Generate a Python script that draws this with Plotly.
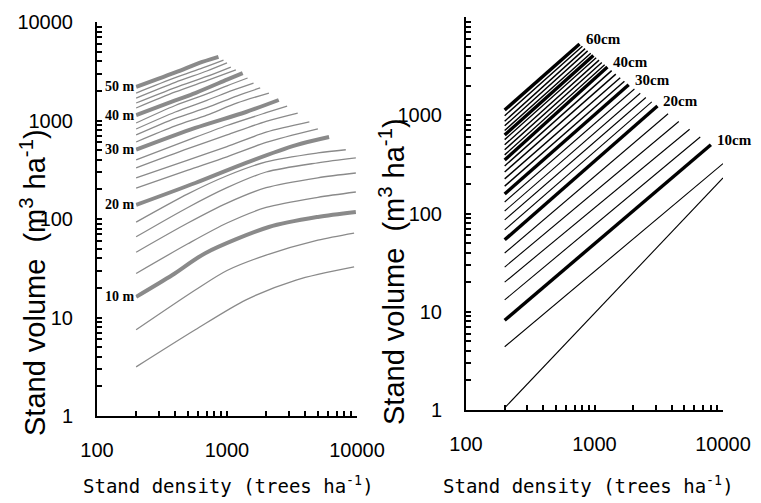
import plotly.graph_objects as go
import math

# ---------------- data ----------------
# Left panel: stand volume vs density for stand heights (m)
left_heights = [6, 8, 10, 12, 14, 16, 18, 20, 22, 24, 26, 28, 30, 32, 34, 36, 38, 40, 42, 44, 46, 48, 50]
left_density = [
    [200, 570, 1400, 3400, 9500],
    [200, 570, 1000, 2000, 5000, 9500],
    [200, 380, 680, 2100, 5000, 9800],
    [200, 500, 1000, 2000, 5000, 9800],
    [200, 500, 1000, 2000, 5000, 9800],
    [200, 500, 1000, 2000, 5000, 9800],
    [200, 500, 1000, 2000, 5000, 8200],
    [200, 570, 1400, 3400, 6100],
    [200, 500, 1000, 2000, 5000],
    [200, 500, 1000, 2000, 4300],
    [200, 500, 1000, 2000, 3500],
    [200, 500, 1000, 2000, 2900],
    [200, 570, 1400, 2500],
    [200, 400, 700, 1200, 2100],
    [200, 400, 700, 1200, 1800],
    [200, 400, 700, 1100, 1600],
    [200, 400, 700, 1000, 1440],
    [200, 400, 570, 1000, 1320],
    [200, 400, 700, 1170],
    [200, 400, 700, 1070],
    [200, 400, 700, 1000],
    [200, 400, 650, 940],
    [200, 420, 600, 860],
]
left_volume = [
    [3.15, 7.5, 15.1, 24, 32.6],
    [7.5, 19, 30, 43, 61, 72],
    [16.2, 27, 45, 83, 105, 118],
    [28, 56, 91, 131, 166, 188],
    [46, 91, 145, 208, 262, 293],
    [66, 131, 208, 300, 372, 417],
    [93, 180, 275, 380, 468, 505],
    [139, 232, 372, 563, 680],
    [206, 313, 427, 598, 820],
    [261, 396, 543, 760, 966],
    [330, 517, 713, 980, 1190],
    [398, 633, 890, 1200, 1400],
    [505, 840, 1220, 1615],
    [605, 880, 1135, 1510, 1900],
    [713, 1050, 1350, 1780, 2140],
    [820, 1220, 1600, 2020, 2400],
    [944, 1420, 1860, 2250, 2700],
    [1137, 1600, 1900, 2600, 3030],
    [1340, 1950, 2540, 3260],
    [1505, 2160, 2800, 3490],
    [1690, 2440, 3180, 3840],
    [1900, 2720, 3420, 4110],
    [2190, 3150, 3800, 4420],
]
left_bold = [10, 20, 30, 40, 50]

# Right panel: stand volume vs density for mean DBH (cm)
right_dbh = [6, 8, 10, 12, 14, 16, 18, 20, 22, 24, 26, 28, 30, 32, 34, 36, 38, 40,
             42, 44, 46, 48, 50, 52, 54, 56, 58, 60]
right_density = [
    [200, 1220, 6170, 10000], [200, 10000], [200, 8050], [200, 6650], [200, 5500],
    [200, 4530], [200, 3740], [200, 3090], [200, 2790], [200, 2510], [200, 2270],
    [200, 2045], [200, 1845], [200, 1710], [200, 1585], [200, 1465], [200, 1360],
    [200, 1260], [200, 1200], [200, 1140], [200, 1085], [200, 1030], [200, 980],
    [200, 935], [200, 885], [200, 845], [200, 805], [200, 765],
]
right_volume = [
    [1.05, 12.6, 116, 230], [4.4, 322], [8.2, 500], [13.2, 601], [20, 721],
    [28.5, 863], [39.6, 1035], [54, 1240], [68, 1370], [86, 1515], [106, 1675],
    [131, 1850], [158, 2040], [190, 2220], [225, 2410], [265, 2620], [305, 2845],
    [350, 3090], [395, 3260], [445, 3445], [500, 3640], [565, 3840], [630, 4055],
    [700, 4280], [780, 4520], [870, 4765], [990, 5030], [1130, 5310],
]
right_bold = [10, 20, 30, 40, 50, 60]
right_labelled = [10, 20, 30, 40, 60]

# ticks
x_tick_vals = [100, 200, 300, 400, 500, 600, 700, 800, 900,
               1000, 2000, 3000, 4000, 5000, 6000, 7000, 8000, 9000, 10000]
x_tick_text = ["100", "", "", "", "", "", "", "", "",
               "1000", "", "", "", "", "", "", "", "", "10000"]
y_tick_vals = [1, 2, 3, 4, 5, 6, 7, 8, 9,
               10, 20, 30, 40, 50, 60, 70, 80, 90,
               100, 200, 300, 400, 500, 600, 700, 800, 900,
               1000, 2000, 3000, 4000, 5000, 6000, 7000, 8000, 9000, 10000]
y_tick_text = ["1"] + [""] * 8 + ["10"] + [""] * 8 + ["100"] + [""] * 8 + ["1000"] + [""] * 8 + ["10000"]

x_title = "Stand density (trees ha<sup>-1</sup>)"
y_title = "Stand volume  (m<sup>3</sup> ha<sup>-1</sup>)"

# ---------------- figure ----------------
# the page body has an 8 px margin, so the figure is drawn 8 px smaller
OFF = 8
W, H = 761 - OFF, 503 - OFF


def px(x):
    return (x - OFF) / W


def py(y):
    return 1 - (y - OFF) / H


fig = go.Figure()

for h, xs, ys in zip(left_heights, left_density, left_volume):
    bold = h in left_bold
    fig.add_trace(go.Scatter(
        x=xs, y=ys, mode="lines", xaxis="x", yaxis="y",
        line=dict(color="#8a8a8a", width=4 if bold else 1.3, shape="spline", smoothing=0.8),
        hoverinfo="skip", showlegend=False))

for d, xs, ys in zip(right_dbh, right_density, right_volume):
    bold = d in right_bold
    fig.add_trace(go.Scatter(
        x=xs, y=ys, mode="lines", xaxis="x2", yaxis="y2",
        line=dict(color="#000000", width=3.4 if bold else (1.4 if d > 30 else 1.1)),
        hoverinfo="skip", showlegend=False))

annotations = []
# left labels, next to start of bold lines
for h, xs, ys in zip(left_heights, left_density, left_volume):
    if h in left_bold:
        annotations.append(dict(
            x=math.log10(113), y=math.log10(ys[0]), xref="x", yref="y",
            text=f"<b>{h} m</b>", showarrow=False, xanchor="left", yanchor="middle",
            font=dict(family="Liberation Serif", size=14, color="black"),
            bgcolor="white", borderpad=0))
# right labels, at ends of lines
for d, xs, ys in zip(right_dbh, right_density, right_volume):
    if d in right_labelled:
        annotations.append(dict(
            x=math.log10(xs[-1]), y=math.log10(ys[-1]), xref="x2", yref="y2",
            text=f"<b>{d}cm</b>", showarrow=False, xanchor="left", yanchor="middle",
            xshift=4, yshift=5,
            font=dict(family="Liberation Serif", size=15, color="black")))

title_font = dict(family="DejaVu Sans Mono", size=19, color="black")
ytitle_font = dict(family="Liberation Sans", size=29, color="black")
for cx in (228, 588):
    annotations.append(dict(x=px(cx), y=py(485), xref="paper", yref="paper",
                            text=x_title, showarrow=False, xanchor="center", yanchor="middle",
                            font=title_font))
for cx, cy in ((33, 283), (392, 272)):
    annotations.append(dict(x=px(cx), y=py(cy), xref="paper", yref="paper",
                            text=y_title, showarrow=False, textangle=-90,
                            xanchor="center", yanchor="middle", font=ytitle_font))

tick_font = dict(family="Liberation Sans", size=20, color="black")
common_x = dict(type="log", range=[2, 4], showline=True, linecolor="black", linewidth=2,
                ticks="inside", ticklen=5, tickwidth=1.5, tickcolor="black",
                tickvals=x_tick_vals, ticktext=x_tick_text, tickfont=tick_font,
                ticklabelstandoff=15, showgrid=False, zeroline=False, mirror=False,
                automargin=False)
common_y = dict(type="log", range=[0, 4], showline=True, linecolor="black", linewidth=2,
                ticks="inside", ticklen=5, tickwidth=1.5, tickcolor="black",
                tickvals=y_tick_vals, ticktext=y_tick_text, tickfont=tick_font,
                ticklabelstandoff=18, showgrid=False, zeroline=False,
                automargin=False)

fig.update_layout(
    width=W, height=H,
    margin=dict(l=0, r=0, t=0, b=0, autoexpand=False),
    paper_bgcolor="white", plot_bgcolor="white",
    xaxis=dict(domain=[px(97), px(357)], anchor="y", **common_x),
    yaxis=dict(domain=[py(416), py(22)], anchor="x", **common_y),
    xaxis2=dict(domain=[px(466), px(723)], anchor="y2", **common_x),
    yaxis2=dict(domain=[py(410), py(17)], anchor="x2", **common_y),
    annotations=annotations,
    showlegend=False,
)

fig.write_html("out.html")
